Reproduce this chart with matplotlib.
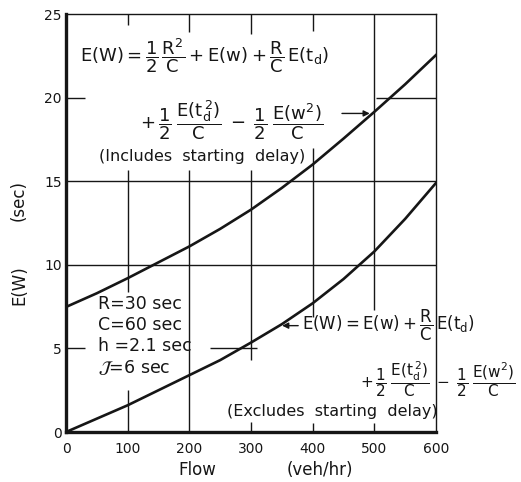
import numpy as np
import matplotlib.pyplot as plt

plt.rcParams['font.family'] = 'DejaVu Sans'
plt.rcParams['mathtext.fontset'] = 'dejavusans'
plt.rcParams['mathtext.default'] = 'regular'

# expected wait vs. flow
flow = [0, 50, 100, 150, 200, 250, 300, 350, 400, 450, 500, 550, 600]
wait_incl = [7.48, 8.3, 9.2, 10.15, 11.1, 12.15, 13.3, 14.6, 16.0, 17.55, 19.15, 20.8, 22.55]
wait_excl = [0.0, 0.8, 1.6, 2.5, 3.4, 4.3, 5.35, 6.45, 7.7, 9.15, 10.8, 12.75, 14.9]

x_ticks = [0, 100, 200, 300, 400, 500, 600]
y_ticks = [0, 5, 10, 15, 20, 25]
params = ['R=30 sec', 'C=60 sec', 'h =2.1 sec', r'$\mathcal{J}$=6 sec']

INK = '#161616'

# grid lines are drawn in pieces so they stop short of the lettering
vgrid = {
    100: [(0, 2.5), (8.4, 15.7), (24.35, 25)],
    200: [(0, 15.7), (23.9, 25)],
    300: [(0, 0.6), (4.3, 15.7), (23.8, 25)],
    400: [(0, 0.55), (6.9, 17.0), (24.0, 25)],
    500: [(0, 0.55), (7.3, 25)],
}
hgrid = {
    5: [(0, 31), (233, 309)],
    10: [(0, 600)],
    15: [(0, 600)],
    20: [(0, 31), (503, 600)],
}


def main():
    fig = plt.figure(figsize=(5.21, 4.82), dpi=100)
    ax = fig.add_axes([0.1267, 0.1037, 0.7102, 0.8672])

    for xv, spans in vgrid.items():
        for y0, y1 in spans:
            ax.vlines(xv, y0, y1, color=INK, lw=1.0, zorder=1)
    for yv, spans in hgrid.items():
        for x0, x1 in spans:
            ax.hlines(yv, x0, x1, color=INK, lw=1.0, zorder=1)

    ax.plot(flow, wait_incl, color=INK, lw=1.9, zorder=3)
    ax.plot(flow, wait_excl, color=INK, lw=1.9, zorder=3)

    ax.set_xlim(0, 600)
    ax.set_ylim(0, 25)
    ax.set_xticks(x_ticks)
    ax.set_yticks(y_ticks)
    ax.tick_params(length=0, labelsize=10, colors=INK)
    ax.tick_params(axis='x', pad=7)
    ax.tick_params(axis='y', pad=3)
    for side, lw in [('left', 2.4), ('bottom', 2.4), ('top', 1.0), ('right', 1.0)]:
        ax.spines[side].set_linewidth(lw)
        ax.spines[side].set_color(INK)

    # axis titles
    ax.text(0.354, -0.091, 'Flow', transform=ax.transAxes, ha='center', va='center',
            fontsize=12, color=INK)
    ax.text(0.686, -0.091, '(veh/hr)', transform=ax.transAxes, ha='center', va='center',
            fontsize=12, color=INK)
    ax.text(-0.127, 0.352, 'E(W)', transform=ax.transAxes, ha='center', va='center',
            rotation=90, fontsize=12, color=INK)
    ax.text(-0.127, 0.555, '(sec)', transform=ax.transAxes, ha='center', va='center',
            rotation=90, fontsize=12, color=INK)

    # upper curve: includes starting delay
    ax.text(23, 22.5, r'$E(W)=\dfrac{1}{2}\,\dfrac{R^2}{C}+E(w)+\dfrac{R}{C}\,E(t_d)$',
            ha='left', va='center', fontsize=13, color=INK)
    ax.text(120, 18.66,
            r'$+\,\dfrac{1}{2}\;\dfrac{E(t_d^{\,2})}{C}\;-\;\dfrac{1}{2}\;\dfrac{E(w^2)}{C}$',
            ha='left', va='center', fontsize=13, color=INK)
    y_hit = np.interp(497, flow, wait_incl)
    ax.annotate('', xy=(497, y_hit), xytext=(443, y_hit),
                arrowprops=dict(arrowstyle='-|>', color=INK, lw=1.0, mutation_scale=9))
    ax.text(220, 16.45, '(Includes  starting  delay)', ha='center', va='center',
            fontsize=11.5, color=INK)

    ax.text(52, 8.2, '\n'.join(params), ha='left', va='top', fontsize=12.5,
            linespacing=1.2, color=INK)

    # lower curve: excludes starting delay
    y_hit = np.interp(346, flow, wait_excl)
    ax.annotate('', xy=(346, y_hit), xytext=(381, y_hit),
                arrowprops=dict(arrowstyle='-|>', color=INK, lw=1.0, mutation_scale=9))
    ax.text(383, 6.4, r'$E(W)=E(w)+\dfrac{R}{C}\,E(t_d)$',
            ha='left', va='center', fontsize=12, color=INK)
    ax.text(476, 3.2,
            r'$+\,\dfrac{1}{2}\;\dfrac{E(t_d^{\,2})}{C}\;-\;\dfrac{1}{2}\;\dfrac{E(w^2)}{C}$',
            ha='left', va='center', fontsize=11, color=INK)
    ax.text(432, 1.2, '(Excludes  starting  delay)', ha='center', va='center',
            fontsize=11.5, color=INK)

    fig.savefig('out.png', dpi=100)


if __name__ == '__main__':
    main()
